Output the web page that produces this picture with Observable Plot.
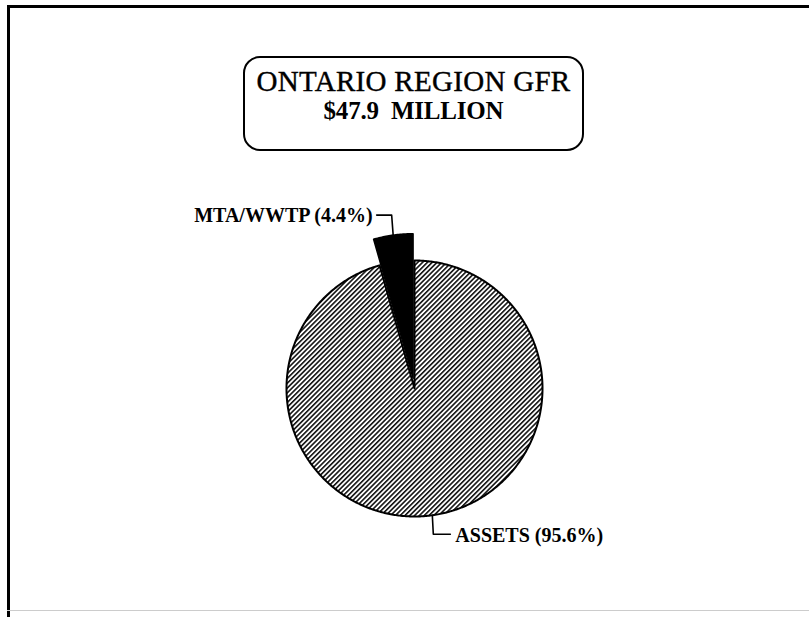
<!DOCTYPE html>
<html>
<head>
<meta charset="utf-8">
<script src="https://cdn.jsdelivr.net/npm/d3@7"></script>
<script src="https://cdn.jsdelivr.net/npm/@observablehq/plot@0.6"></script>
<style>
  html, body { margin: 0; padding: 0; background: #fff; }
  #page { position: relative; width: 809px; height: 617px; overflow: hidden; background: #fff; }
  #frameLeft { position: absolute; left: 7px; top: 5px; width: 3px; height: 612px; background: #000; }
  #frameTop { position: absolute; left: 7px; top: 5px; width: 802px; height: 3px; background: #000; }
  #frameBottom { position: absolute; left: 7px; top: 610px; width: 802px; height: 1px; background: #ccc; }
  #titlebox { position: absolute; left: 243px; top: 56px; width: 341px; height: 95px; box-sizing: border-box;
    border: 2px solid #000; border-radius: 17px; }
  .tline { position: absolute; left: 243px; width: 341px; text-align: center; font-family: "Liberation Serif", serif; color: #000; white-space: pre; }
  #t1 { top: 68px; font-size: 29px; line-height: 26px; font-weight: normal; letter-spacing: 0.3px; -webkit-text-stroke: 0.4px #000; }
  #t2 { top: 100px; font-size: 25px; line-height: 22px; font-weight: bold; letter-spacing: -0.2px; }
  #chart { position: absolute; left: 0; top: 0; }
</style>
</head>
<body>
<div id="page">
  <div id="frameLeft"></div>
  <div id="frameTop"></div>
  <div id="frameBottom"></div>
  <div id="titlebox"></div>
  <div class="tline" id="t1">ONTARIO REGION GFR</div>
  <div class="tline" id="t2">$47.9  MILLION</div>
  <div id="chart"></div>
</div>
<script>
// ---- data ----
const categories = ["MTA/WWTP", "ASSETS"];
const percents = [4.4, 95.6];
const labels = ["MTA/WWTP (4.4%)", "ASSETS (95.6%)"];

// ---- layout ----
const W = 809, H = 617;
const CX = 414, CY = 388, R = 128;   // pie centre & radius in pixels
const explode = 0.08, explodeRadius = 1.13; // exploded slice (in radius units)
const U = 1 / R;                        // one pixel in data units

const total = d3.sum(percents);
const pie = d3.pie().sort(null)
  .startAngle(-2 * Math.PI * percents[0] / total)
  .endAngle(2 * Math.PI - 2 * Math.PI * percents[0] / total);
const arcs = pie(percents);

const pt = (a, r, ox = 0, oy = 0) => ({x: ox + r * Math.sin(a), y: oy + r * Math.cos(a)});

function slicePolygon(arc, i) {
  const exploded = i === 0;
  const mid = (arc.startAngle + arc.endAngle) / 2;
  const ox = exploded ? explode * Math.sin(mid) : 0;
  const oy = exploded ? explode * Math.cos(mid) : 0;
  const r = exploded ? explodeRadius : 1;
  const n = Math.max(8, Math.ceil((arc.endAngle - arc.startAngle) / 0.01));
  const pts = [{x: ox, y: oy}];
  for (let k = 0; k <= n; k++) {
    pts.push(pt(arc.startAngle + (arc.endAngle - arc.startAngle) * k / n, r, ox, oy));
  }
  pts.push({x: ox, y: oy});
  return pts.map(p => ({...p, category: categories[i]}));
}
const wedge = slicePolygon(arcs[0], 0);
const assets = slicePolygon(arcs[1], 1);

// leader lines, anchored on the slices
const midM = (arcs[0].startAngle + arcs[0].endAngle) / 2;
const aM = pt(midM, explodeRadius, explode * Math.sin(midM), explode * Math.cos(midM));
const leaderM = [aM, {x: aM.x - 1.5 * U, y: aM.y + 20 * U}, {x: aM.x - 16.5 * U, y: aM.y + 20 * U}];
const aA = pt(Math.PI - 8 * Math.PI / 180, 1);
const leaderA = [aA, {x: aA.x + 1 * U, y: aA.y - 19 * U}, {x: aA.x + 18 * U, y: aA.y - 19 * U}];

const labelData = [
  {text: labels[0], x: leaderM[2].x - 4 * U, y: leaderM[2].y, anchor: "end"},
  {text: labels[1], x: leaderA[2].x + 5 * U, y: leaderA[2].y - 1.5 * U, anchor: "start"}
];

const chart = Plot.plot({
  width: W, height: H, margin: 0,
  x: {domain: [-CX / R, (W - CX) / R], axis: null},
  y: {domain: [-(H - CY) / R, CY / R], axis: null},
  style: {background: "transparent", overflow: "visible"},
  marks: [
    Plot.line(assets, {x: "x", y: "y", fill: "url(#hatch)", stroke: "#000", strokeWidth: 2, curve: "linear"}),
    Plot.line(wedge, {x: "x", y: "y", fill: "#000", stroke: "#000", strokeWidth: 1.5, curve: "linear"}),
    Plot.line(leaderM, {x: "x", y: "y", stroke: "#000", strokeWidth: 1.6}),
    Plot.line(leaderA, {x: "x", y: "y", stroke: "#000", strokeWidth: 1.6}),
    Plot.text(labelData.filter(d => d.anchor === "end"), {x: "x", y: "y", text: "text", textAnchor: "end",
      fontFamily: "Liberation Serif", fontSize: 20, fontWeight: "bold", fill: "#000", letterSpacing: -0.6}),
    Plot.text(labelData.filter(d => d.anchor === "start"), {x: "x", y: "y", text: "text", textAnchor: "start",
      fontFamily: "Liberation Serif", fontSize: 20, fontWeight: "bold", fill: "#000"})
  ]
});

const defs = d3.select(chart).insert("defs", ":first-child");
const pat = defs.append("pattern").attr("id", "hatch").attr("patternUnits", "userSpaceOnUse")
  .attr("width", 3.4).attr("height", 3.4).attr("patternTransform", "rotate(45)");
pat.append("rect").attr("width", 3.4).attr("height", 3.4).attr("fill", "#fff");
pat.append("line").attr("x1", 0.8).attr("y1", 0).attr("x2", 0.8).attr("y2", 3.4)
  .attr("stroke", "#111").attr("stroke-width", 1.6);

document.getElementById("chart").appendChild(chart);
</script>
</body>
</html>
